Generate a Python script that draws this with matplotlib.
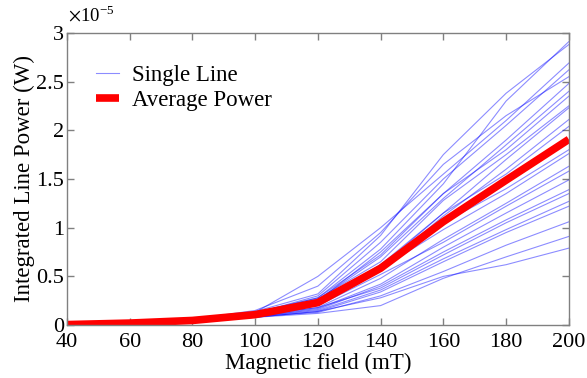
import numpy as np
import matplotlib
matplotlib.use("Agg")
import matplotlib.pyplot as plt
from matplotlib.ticker import FuncFormatter

plt.rcParams['font.family'] = ['Liberation Serif', 'DejaVu Serif']
plt.rcParams['mathtext.fontset'] = 'stix'

# magnetic field (mT)
field = [40, 60, 80, 100, 120, 140, 160, 180, 200]

# integrated line power of each single line, in units of 1e-5 W
single_lines = [
    [0.00, 0.02, 0.05, 0.12, 0.28, 0.78, 1.45, 2.30, 2.91],
    [0.01, 0.02, 0.06, 0.14, 0.32, 0.92, 1.75, 2.38, 2.88],
    [0.00, 0.02, 0.05, 0.13, 0.50, 1.00, 1.55, 2.10, 2.69],
    [0.01, 0.02, 0.05, 0.12, 0.30, 0.85, 1.50, 2.05, 2.62],
    [0.00, 0.02, 0.06, 0.15, 0.40, 0.95, 1.65, 2.15, 2.55],
    [0.01, 0.03, 0.06, 0.13, 0.28, 0.72, 1.35, 1.90, 2.48],
    [0.00, 0.02, 0.05, 0.12, 0.26, 0.70, 1.30, 1.85, 2.40],
    [0.01, 0.02, 0.05, 0.11, 0.25, 0.75, 1.35, 1.80, 2.35],
    [0.00, 0.02, 0.05, 0.12, 0.27, 0.65, 1.28, 1.75, 2.25],
    [0.01, 0.02, 0.05, 0.11, 0.24, 0.62, 1.15, 1.70, 2.23],
    [0.00, 0.02, 0.04, 0.10, 0.22, 0.58, 1.12, 1.60, 2.11],
    [0.01, 0.02, 0.05, 0.11, 0.23, 0.60, 1.15, 1.55, 2.04],
    [0.00, 0.02, 0.05, 0.10, 0.20, 0.62, 1.05, 1.40, 1.80],
    [0.01, 0.02, 0.05, 0.11, 0.22, 0.58, 0.98, 1.35, 1.76],
    [0.00, 0.02, 0.04, 0.10, 0.18, 0.48, 0.88, 1.25, 1.63],
    [0.01, 0.02, 0.05, 0.10, 0.20, 0.52, 0.85, 1.22, 1.58],
    [0.00, 0.02, 0.04, 0.09, 0.17, 0.42, 0.80, 1.15, 1.49],
    [0.01, 0.02, 0.04, 0.09, 0.16, 0.40, 0.75, 1.08, 1.39],
    [0.00, 0.02, 0.05, 0.10, 0.18, 0.38, 0.72, 1.05, 1.35],
    [0.01, 0.02, 0.04, 0.09, 0.15, 0.36, 0.68, 0.98, 1.27],
    [0.00, 0.02, 0.04, 0.08, 0.14, 0.34, 0.65, 0.95, 1.22],
    [0.01, 0.02, 0.04, 0.09, 0.13, 0.30, 0.55, 0.82, 1.06],
    [0.00, 0.02, 0.04, 0.08, 0.12, 0.20, 0.48, 0.70, 0.91],
    [0.01, 0.02, 0.04, 0.08, 0.14, 0.28, 0.50, 0.62, 0.79],
]

average = np.mean(np.array(single_lines), axis=0)

fig = plt.figure(figsize=(5.87, 3.78), dpi=100)
ax = fig.add_axes([0.114, 0.140, 0.855, 0.773])

for i, line in enumerate(single_lines):
    ax.plot(field, line, color='#0000ff', alpha=0.45, linewidth=0.8,
            label='Single Line' if i == 0 else None)
ax.plot(field, average, color='#ff0000', linewidth=5.5, solid_capstyle='butt',
        label='Average Power')

ax.set_xlim(40, 200)
ax.set_ylim(0, 3)
ax.set_xticks(range(40, 201, 20))
ax.set_yticks(np.arange(0, 3.01, 0.5))
ax.yaxis.set_major_formatter(FuncFormatter(lambda v, p: '%g' % v))

for s in ax.spines.values():
    s.set_color('#808080')
    s.set_linewidth(1.0)
ax.tick_params(direction='in', length=5, width=1.0, color='#808080',
               top=True, right=True, labelsize=16)
ax.tick_params(axis='x', pad=6)
ax.tick_params(axis='y', pad=2)

ax.set_xlabel('Magnetic field (mT)', fontsize=16.5, labelpad=0)
ax.set_ylabel('Integrated Line Power (W)', fontsize=16.5, labelpad=1)
ax.text(0.002, 1.025, r'$\times$10$^{\mathregular{-5}}$', transform=ax.transAxes,
        fontsize=13.5, ha='left', va='bottom')

leg = ax.legend(loc='upper left', bbox_to_anchor=(0.04, 0.92), frameon=False,
                fontsize=16.5, handlelength=1.0, handletextpad=0.55,
                labelspacing=0.15, borderaxespad=0)

fig.savefig('out.png', dpi=100)
